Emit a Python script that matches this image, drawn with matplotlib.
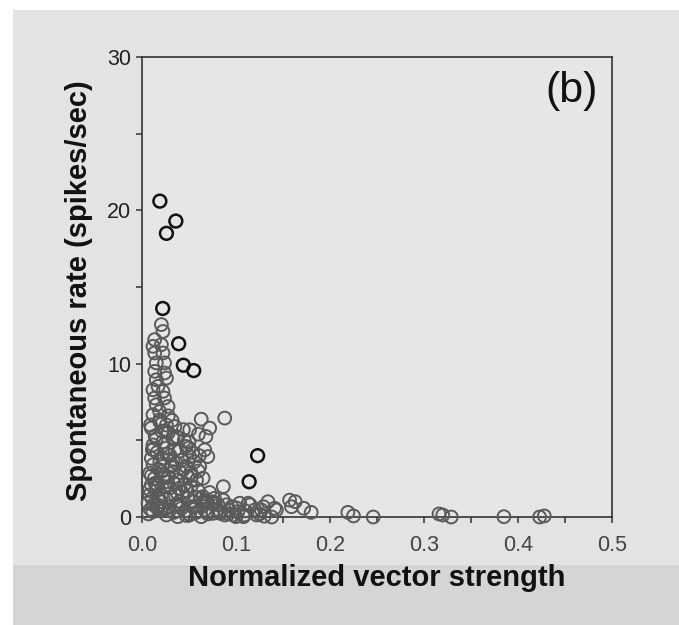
#
#   Spontaneous rate vs. normalized vector strength, panel (b)
#

from matplotlib import pyplot as plt
from matplotlib.patches import Rectangle
from matplotlib.ticker import MultipleLocator

# Most units: open circles
vs = [0.0206, 0.0223, 0.0135, 0.0206, 0.0117, 0.0135, 0.0223, 0.0152, 0.024, 0.0135,
      0.024, 0.0152, 0.026, 0.017, 0.0117, 0.0223, 0.0135, 0.024, 0.0152, 0.0277,
      0.0188, 0.0117, 0.063, 0.088,
      0.0099, 0.0188, 0.026, 0.035, 0.0365, 0.0507, 0.072, 0.068,
      0.0117, 0.0223, 0.035, 0.047, 0.0667, 0.070,
      0.0099, 0.0223, 0.0365, 0.0507, 0.0117, 0.0614,
      0.0082, 0.0206, 0.033, 0.049, 0.065, 0.038,
      0.0099, 0.024, 0.040, 0.052, 0.0865,
      0.0082, 0.0206, 0.035, 0.049, 0.065, 0.077,
      0.0064, 0.017, 0.029, 0.042, 0.054, 0.0667, 0.081, 0.093, 0.102, 0.109,
      0.0117, 0.026, 0.038, 0.0507, 0.063, 0.0755, 0.088, 0.100,
      0.067, 0.076, 0.0865, 0.0954, 0.104, 0.113, 0.120, 0.129, 0.134, 0.143,
      0.138, 0.108, 0.097, 0.083, 0.069, 0.122, 0.127, 0.141,
      0.157, 0.163, 0.159, 0.172, 0.180, 0.219, 0.225, 0.246,
      0.316, 0.320, 0.329, 0.385, 0.423, 0.428,
      0.014, 0.028, 0.045, 0.016, 0.030, 0.042, 0.056, 0.013, 0.027, 0.045,
      0.058, 0.015, 0.030, 0.060, 0.072, 0.020, 0.040, 0.055, 0.070, 0.009,
      0.020, 0.034, 0.046, 0.058, 0.070, 0.080, 0.090, 0.100, 0.110, 0.115,
      0.125, 0.130, 0.060, 0.050, 0.032, 0.028, 0.019, 0.009, 0.025, 0.033,
      0.011, 0.018, 0.031, 0.044, 0.052, 0.023, 0.014, 0.037, 0.048, 0.062,
      0.0105, 0.016, 0.029, 0.039, 0.057, 0.068, 0.078, 0.008, 0.021, 0.047,
      0.007, 0.012, 0.018, 0.024, 0.030, 0.036, 0.043, 0.050, 0.057, 0.064,
      0.010, 0.016, 0.022, 0.028, 0.034, 0.041, 0.047, 0.053, 0.060,
      0.012, 0.019, 0.026, 0.033, 0.040, 0.054, 0.061, 0.075, 0.082, 0.092,
      0.015, 0.021, 0.027, 0.038, 0.044, 0.050, 0.015, 0.024, 0.032]
rate = [12.55, 12.1, 11.57, 11.24, 11.13, 10.7, 10.7, 10.05, 10.05, 9.5,
        9.39, 8.95, 9.06, 8.52, 8.3, 8.19, 7.76, 7.76, 7.32, 7.21,
        6.88, 6.67, 6.38, 6.45,
        5.8, 6.34, 6.0, 5.9, 5.25, 5.69, 5.8, 5.25,
        4.7, 4.9, 4.38, 4.6, 4.38, 3.94,
        3.83, 3.83, 3.5, 3.94, 3.4, 3.29,
        2.86, 2.96, 2.96, 2.63, 2.53, 2.42,
        2.09, 1.98, 1.88, 1.98, 1.98,
        1.44, 1.44, 1.44, 1.22, 1.33, 1.22,
        0.9, 0.78, 0.67, 0.57, 0.67, 0.46, 0.78, 0.46, 0.35, 0.13,
        0.35, 0.13, 0.02, 0.13, 0.02, 0.24, 0.13, 0.02,
        1.1, 0.9, 1.1, 0.67, 0.9, 0.9, 0.46, 0.67, 1.0, 0.46,
        0.0, 0.02, 0.13, 0.24, 0.35, 0.13, 0.46, 0.57,
        1.1, 1.0, 0.67, 0.57, 0.3, 0.3, 0.07, 0.0,
        0.2, 0.13, 0.0, 0.02, 0.0, 0.07,
        5.3, 5.5, 5.0, 4.2, 4.0, 3.7, 3.6, 2.5, 2.3, 2.1,
        2.4, 1.7, 1.9, 1.7, 1.6, 1.0, 1.0, 1.0, 0.9, 0.5,
        0.4, 0.3, 0.4, 0.3, 0.2, 0.5, 0.8, 0.6, 0.4, 0.8,
        0.2, 0.05, 5.4, 4.9, 6.3, 6.6, 6.2, 6.0, 5.6, 5.1,
        4.4, 3.1, 3.3, 3.1, 2.9, 2.7, 2.2, 1.6, 1.7, 1.2,
        1.2, 0.6, 0.4, 0.8, 0.7, 1.0, 0.9, 1.8, 0.6, 0.1,
        0.2, 0.8, 1.2, 0.5, 1.3, 0.8, 1.6, 0.2, 1.3, 0.7,
        2.7, 2.1, 3.3, 2.6, 2.2, 2.9, 3.3, 2.7, 3.0,
        4.4, 3.6, 4.5, 3.7, 4.3, 4.2, 4.0, 1.0, 0.3, 0.2,
        5.1, 5.6, 4.1, 5.2, 5.7, 4.5, 1.9, 2.6, 3.4]

# A few units printed darker in the original
vs_dark = [0.019, 0.036, 0.026, 0.022, 0.039, 0.044, 0.055, 0.123, 0.114]
rate_dark = [20.6, 19.3, 18.5, 13.6, 11.3, 9.9, 9.55, 4.0, 2.3]

xticks = [0.0, 0.1, 0.2, 0.3, 0.4, 0.5]
xticklabels = ["0.0", "0.1", "0.2", "0.3", "0.4", "0.5"]
yticks = [0, 10, 20, 30]

plt.rcParams["font.family"] = ["Liberation Sans", "DejaVu Sans"]

fig = plt.figure(figsize=(6.79, 6.25), dpi=100)
fig.patch.set_facecolor("white")
# scanned page tone
fig.patches.append(Rectangle((13/679, 0), 1, 1 - 10/625, transform=fig.transFigure,
                             facecolor="#e3e3e3", edgecolor="none", zorder=-10))
fig.patches.append(Rectangle((13/679, 0), 1, 60/625, transform=fig.transFigure,
                             facecolor="#d5d5d5", edgecolor="none", zorder=-9))

ax = fig.add_axes([142/679, 1 - 517/625, 470/679, 460/625])
ax.set_facecolor("#e6e6e6")

ax.scatter(vs, rate, s=85, facecolors="none", edgecolors="#5a5a5a",
           linewidths=1.4, clip_on=False, zorder=3)
ax.scatter(vs_dark, rate_dark, s=85, facecolors="none", edgecolors="#111111",
           linewidths=1.8, clip_on=False, zorder=4)

ax.set_xlim(0, 0.5)
ax.set_ylim(0, 30)
ax.set_xticks(xticks)
ax.set_xticklabels(xticklabels)
ax.set_yticks(yticks)
ax.xaxis.set_minor_locator(MultipleLocator(0.05))
ax.yaxis.set_minor_locator(MultipleLocator(5))
ax.tick_params(which="both", direction="out", length=4, width=1.1, colors="#333333")
ax.tick_params(axis="x", labelsize=15.5, pad=9, labelcolor="#444444")
ax.tick_params(axis="y", labelsize=15.5, pad=4, labelcolor="#222222")
for side in ["left", "bottom", "top", "right"]:
    ax.spines[side].set_color("#333333")
    ax.spines[side].set_linewidth(1.2)

ax.text(0.913, 0.926, "(b)", transform=ax.transAxes, fontsize=31,
        ha="center", va="center", color="#111111")

fig.text(377/679, 1 - 578/625, "Normalized vector strength", fontsize=21,
         fontweight="bold", ha="center", va="center", color="#111111")
fig.text(79/679, 1 - 291/625, "Spontaneous rate (spikes/sec)", fontsize=21,
         fontweight="bold", rotation=90, ha="center", va="center", color="#111111")

fig.savefig("out.png", dpi=100)
